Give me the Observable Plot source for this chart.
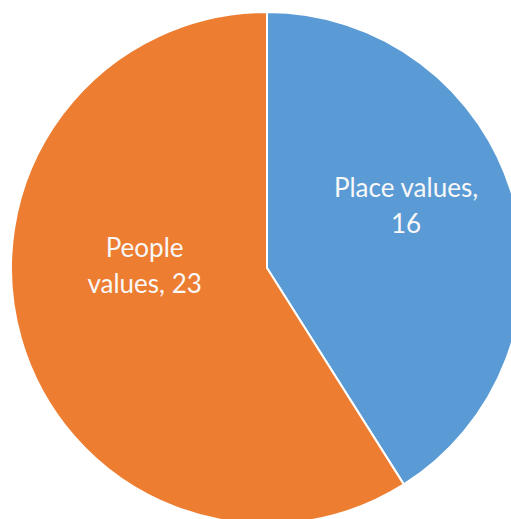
<!DOCTYPE html>
<html>
<head>
<meta charset="utf-8">
<script src="https://cdn.jsdelivr.net/npm/d3@7"></script>
<script src="https://cdn.jsdelivr.net/npm/@observablehq/plot@0.6"></script>
<style>
  html, body { margin: 0; padding: 0; background: #fff; }
</style>
</head>
<body>
<div id="chart"></div>
<script>
// ---- data ----
const categories = ["Place values", "People values"];
const values = [16, 23];
const colors = ["#5B9BD5", "#ED7D31"];
const labelLines = [["Place values,", "16"], ["People", "values, 23"]];

// ---- layout (unit = pie radius) ----
const W = 511, H = 519;
const R = 256, CX = 267, CY = 268;
const labelAnchor = [[0.541, -0.254], [-0.480, -0.020]];

const data = categories.map((c, i) => ({category: c, value: values[i]}));
const arcs = d3.pie().sort(null).value(d => d.value)(data);

const labels = data.map((d, i) => ({
  category: d.category,
  text: labelLines[i].join("\n"),
  x: labelAnchor[i][0],
  y: labelAnchor[i][1]
}));

function pieMark(index, scales, values, dimensions) {
  const x0 = scales.x(0), y0 = scales.y(0);
  const r = scales.x(1) - scales.x(0);
  const arc = d3.arc().innerRadius(0).outerRadius(r);
  const g = d3.create("svg:g").attr("transform", `translate(${x0},${y0})`);
  g.selectAll("path")
    .data(arcs)
    .join("path")
    .attr("d", arc)
    .attr("fill", d => scales.color(d.data.category))
    .attr("stroke", "#ffffff")
    .attr("stroke-width", 2)
    .attr("stroke-linejoin", "round");
  return g.node();
}

const chart = Plot.plot({
  width: W,
  height: H,
  margin: 0,
  style: {background: "#ffffff", overflow: "visible"},
  x: {domain: [-CX / R, (W - CX) / R], range: [0, W], axis: null},
  y: {domain: [-CY / R, (H - CY) / R], range: [0, H], axis: null},
  color: {domain: categories, range: colors},
  marks: [
    Plot.dot(labels, {x: "x", y: "y", fill: "category", r: 0}),
    pieMark,
    Plot.text(labels, {
      x: "x", y: "y", text: "text",
      fill: "#f8f8f8",
      fontSize: 26,
      lineHeight: 1.38,
      fontFamily: "Lato, 'Noto Sans', sans-serif",
      textAnchor: "middle"
    })
  ]
});

document.getElementById("chart").appendChild(chart);
</script>
</body>
</html>
